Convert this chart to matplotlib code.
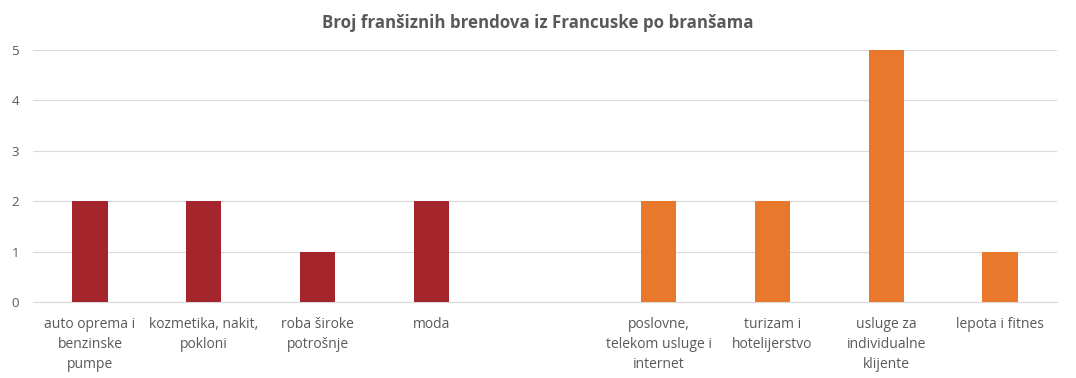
import matplotlib.pyplot as plt

plt.rcParams['font.family'] = ['Open Sans', 'DejaVu Sans']

categories = ['auto oprema i\nbenzinske\npumpe', 'kozmetika, nakit,\npokloni',
              'roba široke\npotrošnje', 'moda', '',
              'poslovne,\ntelekom usluge i\ninternet', 'turizam i\nhotelijerstvo',
              'usluge za\nindividualne\nklijente', 'lepota i fitnes']
values = [2, 2, 1, 2, 0, 2, 2, 5, 1]
groups = ['a', 'a', 'a', 'a', None, 'b', 'b', 'b', 'b']
colors = {'a': '#A4262C', 'b': '#E8782C'}

fig = plt.figure(figsize=(10.76, 3.78), dpi=100)
ax = fig.add_axes([0.0307, 0.201, 0.9516, 0.667])

for i, (v, g) in enumerate(zip(values, groups)):
    if g is None:
        continue
    ax.bar(i, v, width=0.31, color=colors[g], zorder=3)

ax.set_xlim(-0.5, len(categories) - 0.5)
ax.set_ylim(0, 5)
ax.set_yticks(range(6))
ax.set_xticks(range(len(categories)))
ax.set_xticklabels(categories, fontsize=10, color='#595959', linespacing=1.45, va='top')
ax.tick_params(axis='y', labelsize=9.5, labelcolor='#595959', length=0, pad=10)
ax.tick_params(axis='x', length=0, pad=11)
ax.yaxis.grid(True, color='#D9D9D9', linewidth=0.8, zorder=0)
for s in ['top', 'right', 'left']:
    ax.spines[s].set_visible(False)
ax.spines['bottom'].set_color('#D9D9D9')
ax.spines['bottom'].set_zorder(1)

fig.text(0.5, 0.94, 'Broj franšiznih brendova iz Francuske po branšama',
         ha='center', va='center', fontsize=12.2, fontweight='bold', color='#595959')

fig.savefig('out.png', dpi=100)
